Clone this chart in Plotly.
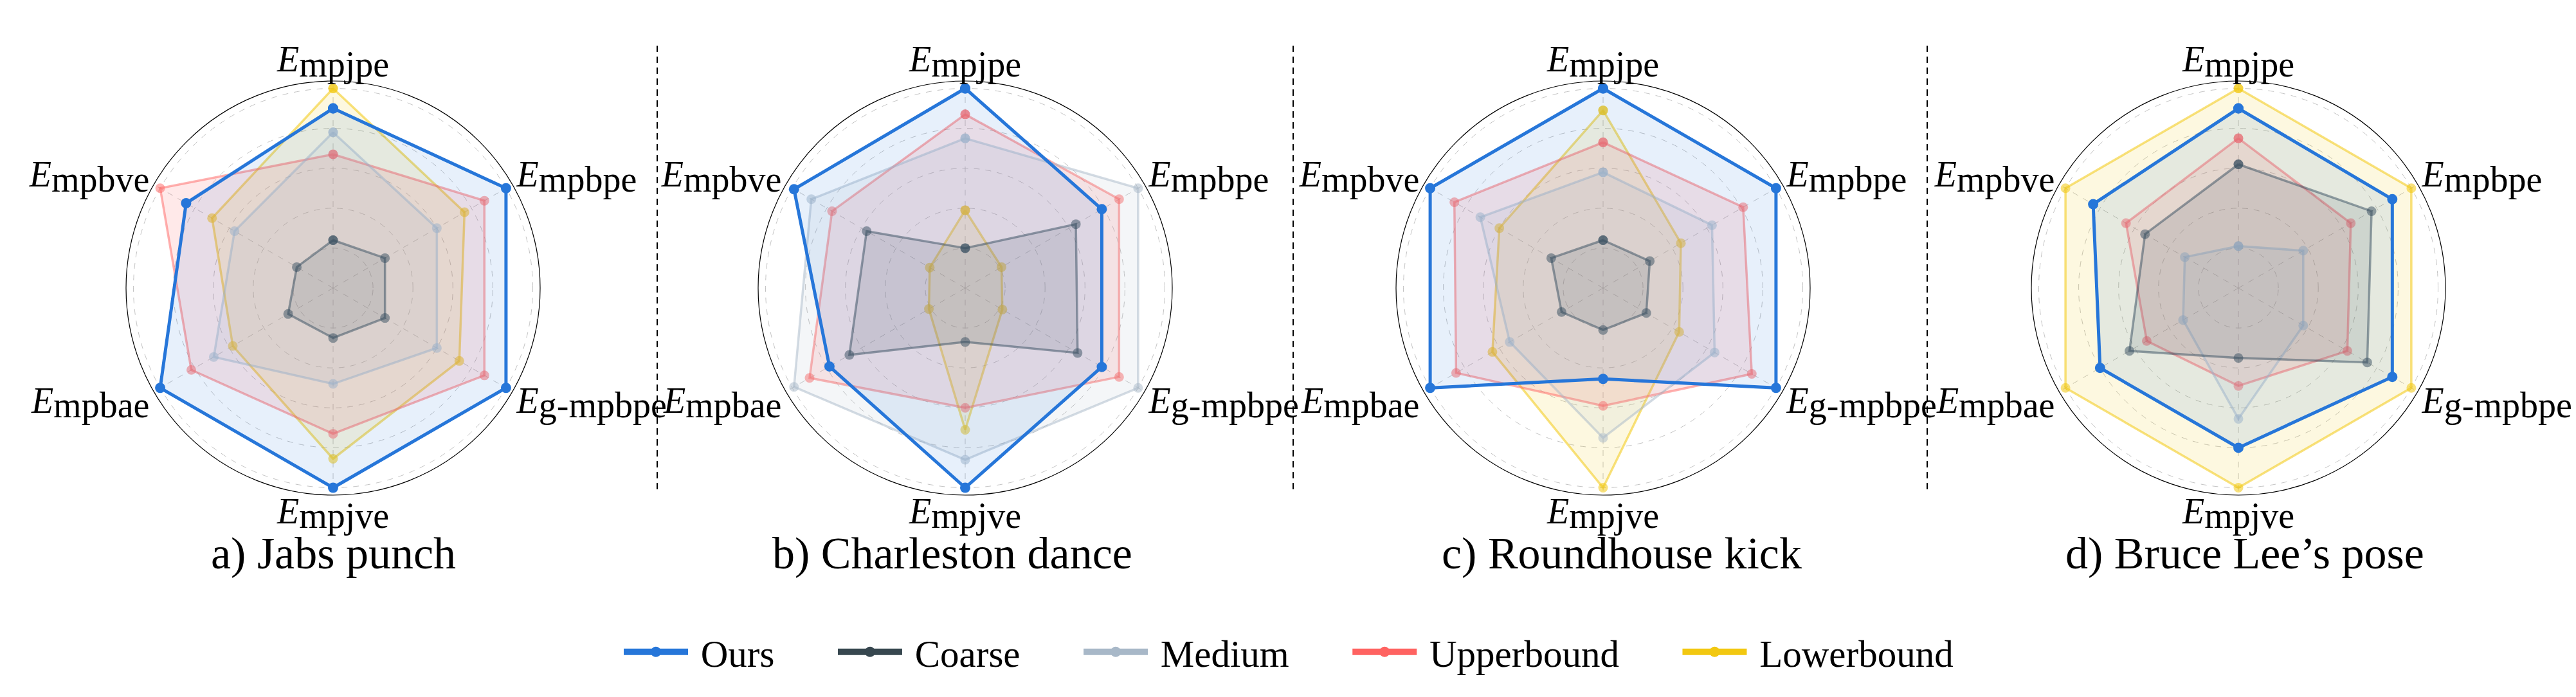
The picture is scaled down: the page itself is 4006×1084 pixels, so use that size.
import plotly.graph_objects as go

# ---------------- data ----------------
categories = ["mpjpe", "mpbpe", "g-mpbpe", "mpjve", "mpbae", "mpbve"]
series_names = ["Ours", "Coarse", "Medium", "Upperbound", "Lowerbound"]
panel_titles = ["a) Jabs punch", "b) Charleston dance", "c) Roundhouse kick", "d) Bruce Lee\u2019s pose"]

# normalised scores per panel (a, b, c, d), in the order of `categories`
ours = [
    [0.90, 1.00, 1.00, 1.00, 1.00, 0.85],
    [1.00, 0.79, 0.79, 1.00, 0.785, 0.99],
    [1.00, 1.00, 1.00, 0.455, 1.00, 1.00],
    [0.90, 0.89, 0.89, 0.80, 0.80, 0.84],
]
coarse = [
    [0.24, 0.30, 0.30, 0.25, 0.26, 0.21],
    [0.20, 0.64, 0.65, 0.27, 0.67, 0.57],
    [0.24, 0.27, 0.25, 0.21, 0.24, 0.30],
    [0.62, 0.77, 0.745, 0.35, 0.63, 0.54],
]
medium = [
    [0.78, 0.60, 0.60, 0.48, 0.69, 0.57],
    [0.75, 1.00, 1.00, 0.86, 0.99, 0.89],
    [0.58, 0.63, 0.645, 0.75, 0.54, 0.71],
    [0.21, 0.375, 0.375, 0.655, 0.32, 0.31],
]
upperbound = [
    [0.67, 0.875, 0.875, 0.73, 0.82, 1.00],
    [0.87, 0.89, 0.89, 0.60, 0.90, 0.77],
    [0.73, 0.81, 0.86, 0.59, 0.85, 0.86],
    [0.75, 0.65, 0.63, 0.49, 0.53, 0.65],
]
lowerbound = [
    [1.00, 0.76, 0.73, 0.855, 0.58, 0.70],
    [0.39, 0.21, 0.215, 0.71, 0.21, 0.205],
    [0.89, 0.45, 0.44, 1.00, 0.64, 0.60],
    [1.00, 1.00, 1.00, 1.00, 1.00, 1.00],
]
grid_values = [0.2, 0.4, 0.6, 0.8, 1.0]

# ---------------- style ----------------
W, H = 4006, 1084
colors = {
    "Ours": (38, 118, 217),
    "Coarse": (55, 71, 79),
    "Medium": (168, 184, 200),
    "Upperbound": (255, 99, 97),
    "Lowerbound": (242, 200, 17),
}
line_alpha = {"Ours": 1.0, "Coarse": 0.5, "Medium": 0.5, "Upperbound": 0.5, "Lowerbound": 0.55}
fill_alpha = {"Ours": 0.11, "Coarse": 0.13, "Medium": 0.13, "Upperbound": 0.14, "Lowerbound": 0.13}
series_data = {"Ours": ours, "Coarse": coarse, "Medium": medium,
               "Upperbound": upperbound, "Lowerbound": lowerbound}
draw_order = ["Lowerbound", "Upperbound", "Medium", "Coarse", "Ours"]

centers_x = [510, 1493, 2485, 3473]
center_y = 440
R = 322
title_x = [510, 1473, 2514, 3483]
title_y = 852
sep_x = [1014, 2003, 2989]

SERIF = "Liberation Serif, Times New Roman, serif"
NB = "\u00a0"


def rgba(c, a):
    return f"rgba({c[0]},{c[1]},{c[2]},{a})"


tick_labels = [
    f'<span style="font-size:56px"><i>E</i></span><sub><span style="font-size:56px">{c}</span></sub>'
    for c in categories
]

fig = go.Figure()

for p in range(4):
    pid = "polar" if p == 0 else f"polar{p + 1}"
    for name in draw_order:
        vals = series_data[name][p]
        c = colors[name]
        is_ours = name == "Ours"
        fig.add_trace(go.Scatterpolar(
            r=vals + vals[:1],
            theta=tick_labels + tick_labels[:1],
            mode="lines+markers",
            fill="toself",
            fillcolor=rgba(c, fill_alpha[name]),
            line=dict(color=rgba(c, line_alpha[name]), width=5 if is_ours else 3.5),
            marker=dict(color=rgba(c, line_alpha[name]), size=16 if is_ours else 15),
            name=name,
            showlegend=False,
            subplot=pid,
            hoverinfo="skip",
        ))

# legend keys (solid colours as in the reference legend)
for rank, name in enumerate(series_names):
    c = colors[name]
    fig.add_trace(go.Scatterpolar(
        r=[None], theta=[None],
        mode="lines+markers",
        line=dict(color=rgba(c, 1), width=10),
        marker=dict(color=rgba(c, 1), size=16),
        name=NB + name + NB * 6,
        showlegend=True,
        legendrank=rank + 1,
        subplot="polar",
    ))

layout = dict(
    width=W, height=H,
    margin=dict(l=0, r=0, t=0, b=0),
    paper_bgcolor="white",
    plot_bgcolor="white",
    font=dict(family=SERIF, color="black"),
    showlegend=True,
    legend=dict(
        orientation="h",
        x=957 / W, xanchor="left",
        y=1 - 1006 / H, yanchor="middle",
        font=dict(family=SERIF, size=59, color="black"),
        itemwidth=100,
        traceorder="normal",
        bgcolor="rgba(0,0,0,0)",
    ),
)

for p in range(4):
    key = "polar" if p == 0 else f"polar{p + 1}"
    cx = centers_x[p]
    cy_b = H - center_y
    layout[key] = dict(
        domain=dict(x=[(cx - R) / W, (cx + R) / W], y=[(cy_b - R) / H, (cy_b + R) / H]),
        bgcolor="white",
        radialaxis=dict(
            range=[0, 1.037],
            tickvals=grid_values,
            showticklabels=False,
            ticks="",
            showline=False,
            gridcolor="#c4c4c4",
            griddash="dash",
            gridwidth=1,
        ),
        angularaxis=dict(
            type="category",
            categoryarray=tick_labels,
            direction="clockwise",
            rotation=90,
            showline=True,
            linecolor="black",
            linewidth=1.2,
            gridcolor="#c4c4c4",
            griddash="dash",
            gridwidth=1,
            ticks="",
            tickfont=dict(family=SERIF, size=36, color="black"),
        ),
    )

fig.update_layout(**layout)

for p in range(4):
    fig.add_annotation(
        x=title_x[p] / W, y=1 - title_y / H, xref="paper", yref="paper",
        text=panel_titles[p], showarrow=False,
        font=dict(family=SERIF, size=70, color="black"),
        xanchor="center", yanchor="middle",
    )

for sx in sep_x:
    fig.add_shape(
        type="line", xref="paper", yref="paper",
        x0=sx / W, x1=sx / W, y0=1 - 63 / H, y1=1 - 753 / H,
        line=dict(color="black", width=2, dash="10px,7px"),
    )

fig.write_html("out.html")
